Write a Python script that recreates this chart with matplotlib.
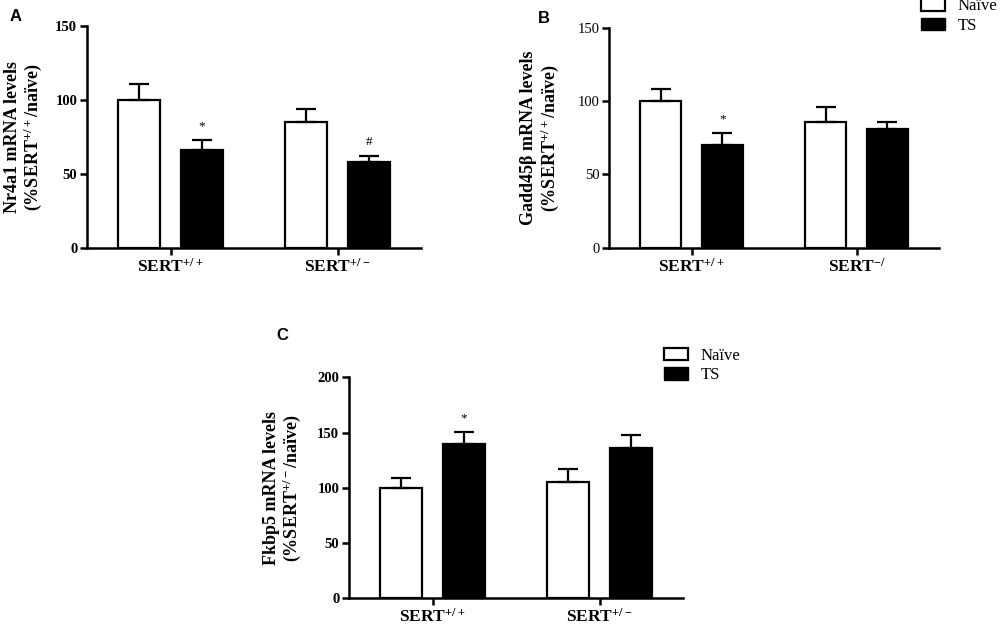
"""Three-panel bar chart of mRNA levels (naive vs TS) in SERT genotypes."""
import matplotlib
matplotlib.use("Agg")
import matplotlib.pyplot as plt
from matplotlib.patches import Patch
import numpy as np

plt.rcParams["mathtext.default"] = "regular"

# ------------------------------------------------------------------
# Data
# ------------------------------------------------------------------
groups_a = ["SERT$^{+/+}$", "SERT$^{+/-}$"]
naive_a = [100, 85]
naive_a_err = [11, 9]
ts_a = [66.5, 58]
ts_a_err = [6.5, 4]
marks_a = ["*", "#"]

groups_b = ["SERT$^{+/+}$", "SERT$^{-/}$"]
naive_b = [100, 85.5]
naive_b_err = [8, 10.5]
ts_b = [70, 81]
ts_b_err = [8, 5]
marks_b = ["*", ""]

groups_c = ["SERT$^{+/+}$", "SERT$^{+/-}$"]
naive_c = [100, 105.5]
naive_c_err = [9, 11.5]
ts_c = [140, 136.5]
ts_c_err = [10.5, 11]
marks_c = ["*", ""]

SERIF = "Liberation Serif"
SANS = "Liberation Sans"

fig = plt.figure(figsize=(10, 6.24), dpi=100)


def bar_panel(rect, groups, naive, naive_err, ts, ts_err, marks, ymax, yticks,
              ylabel, letter, letter_xy, bold_ticks=True, legend_pos=None,
              labelpad=10):
    ax = fig.add_axes(rect)
    x = np.arange(len(groups))
    off, w = 0.187, 0.25
    ekw = dict(elinewidth=1.6, capthick=1.6, ecolor="black")
    ax.bar(x - off, naive, w, color="white", edgecolor="black", linewidth=1.6,
           yerr=[np.zeros(len(naive)), naive_err], capsize=7.5,
           error_kw=ekw, zorder=2)
    ax.bar(x + off, ts, w, color="black", edgecolor="black", linewidth=1.6,
           yerr=[np.zeros(len(ts)), ts_err], capsize=7.5,
           error_kw=ekw, zorder=2)
    for xi, v, e, m in zip(x, ts, ts_err, marks):
        if m:
            ax.text(xi + off, v + e + ymax * 0.035, m, ha="center",
                    va="bottom", fontsize=9.5, family=SERIF)
    ax.set_xlim(-0.5, 1.5)
    ax.set_ylim(0, ymax)
    ax.set_yticks(yticks)
    ax.set_xticks(x)
    ax.set_xticklabels(groups, fontsize=12.5, fontweight="bold", family=SERIF)
    wt = "bold" if bold_ticks else "normal"
    for lab in ax.get_yticklabels():
        lab.set_fontsize(10.5)
        lab.set_fontweight(wt)
        lab.set_family(SERIF)
    ax.spines["top"].set_visible(False)
    ax.spines["right"].set_visible(False)
    for s in ("left", "bottom"):
        ax.spines[s].set_linewidth(1.8)
    ax.tick_params(axis="both", width=1.8, length=5, pad=2)
    ax.set_ylabel(ylabel, fontsize=13, fontweight="bold", family=SERIF,
                  labelpad=labelpad, linespacing=1.05)
    fig.text(letter_xy[0], letter_xy[1], letter, fontsize=12,
             fontweight="bold", family=SANS, ha="left", va="center")
    if legend_pos is not None:
        handles = [Patch(facecolor="white", edgecolor="black", linewidth=1.6,
                         label="Naïve"),
                   Patch(facecolor="black", edgecolor="black", label="TS")]
        fig.legend(handles=handles, loc="upper left",
                   bbox_to_anchor=legend_pos, frameon=False,
                   prop={"family": SERIF, "size": 12}, handlelength=1.45,
                   handleheight=0.8, handletextpad=0.75, labelspacing=0.2,
                   borderaxespad=0, borderpad=0)
    return ax


bar_panel([0.087, 0.6026, 0.334, 0.3558], groups_a, naive_a, naive_a_err,
          ts_a, ts_a_err, marks_a, 150, [0, 50, 100, 150],
          "Nr4a1 mRNA levels\n(%SERT$^{+/+}$/naïve)", "A", (0.010, 0.973),
          labelpad=8)

bar_panel([0.609, 0.603, 0.330, 0.3526], groups_b, naive_b, naive_b_err,
          ts_b, ts_b_err, marks_b, 150, [0, 50, 100, 150],
          "Gadd45β mRNA levels\n(%SERT$^{+/+}$/naïve)", "B", (0.538, 0.971),
          bold_ticks=False, legend_pos=(0.921, 1.003), labelpad=12)

bar_panel([0.349, 0.0412, 0.334, 0.354], groups_c, naive_c, naive_c_err,
          ts_c, ts_c_err, marks_c, 200, [0, 50, 100, 150, 200],
          "Fkbp5 mRNA levels\n(%SERT$^{+/-}$/naïve)", "C", (0.276, 0.463),
          legend_pos=(0.664, 0.443), labelpad=10)

fig.savefig("out.png", dpi=100)
